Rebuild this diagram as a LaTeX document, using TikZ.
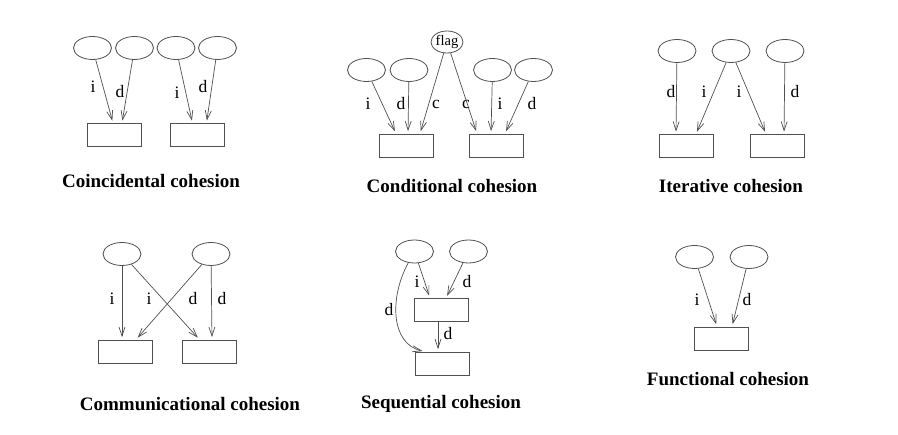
\documentclass[tikz,border=0pt]{standalone}
\usepackage{fontspec}
\setmainfont{Liberation Serif}
\usetikzlibrary{shapes.geometric,arrows.meta}
\definecolor{lc}{HTML}{505050}
\begin{document}
\begin{tikzpicture}[x=1pt,y=-1pt,
 ell/.style={ellipse,draw=lc,line width=0.8pt,minimum width=38pt,minimum height=23pt,inner sep=0pt},
 bx/.style={rectangle,draw=lc,line width=0.8pt,minimum width=54pt,minimum height=23pt,inner sep=0pt},
 arr/.style={draw=lc,line width=0.7pt,-{Straight Barb[length=9pt,width=6pt]},shorten >=2.5pt},
 lab/.style={font=\fontsize{17.5}{19}\selectfont,inner sep=0pt},
 ttl/.style={font=\fontsize{19}{22}\selectfont\bfseries,inner sep=0pt}]
\useasboundingbox (0,0) rectangle (898,435);

% Coincidental
\node[ell] (a1) at (92.5,48) {};
\node[ell] (a2) at (134.5,48) {};
\node[ell] (a3) at (176,48) {};
\node[ell] (a4) at (217.5,48) {};
\node[bx] (ab1) at (114,135) {};
\node[bx] (ab2) at (197.5,135) {};
\draw[arr] (a1) -- ([xshift=-1pt]ab1.north);
\draw[arr] (a2) -- ([xshift=8pt]ab1.north);
\draw[arr] (a3) -- ([xshift=-5pt]ab2.north);
\draw[arr] (a4) -- ([xshift=9pt]ab2.north);
\node[lab] (la1) at (93,87) {i};
\node[lab] (la2) at (120,92) {d};
\node[lab] (la3) at (177,93) {i};
\node[lab] (la4) at (203,87) {d};
\node[ttl] (ta) at (151,181) {Coincidental cohesion};

% Conditional
\node[ell,minimum width=32pt,minimum height=22pt,font=\fontsize{14.5}{16}\selectfont] (bf) at (447,42) {flag};
\node[ell] (b1) at (366.5,70) {};
\node[ell] (b2) at (409,70) {};
\node[ell] (b3) at (492.5,70) {};
\node[ell] (b4) at (533.5,70) {};
\node[bx] (bb1) at (406,145.5) {};
\node[bx] (bb2) at (496,145.5) {};
\draw[arr] (b1) -- ([xshift=-10pt]bb1.north);
\draw[arr] (b2) -- ([xshift=2pt]bb1.north);
\draw[arr] (bf) -- ([xshift=14pt]bb1.north);
\draw[arr] (bf) -- ([xshift=-19pt]bb2.north);
\draw[arr] (b3) -- ([xshift=-5pt]bb2.north);
\draw[arr] (b4) -- ([xshift=9pt]bb2.north);
\node[lab] (lb1) at (368,104) {i};
\node[lab] (lb2) at (401,104) {d};
\node[lab] (lb3) at (436,104) {c};
\node[lab] (lb4) at (466,104) {c};
\node[lab] (lb5) at (500,104) {i};
\node[lab] (lb6) at (532,104) {d};
\node[ttl] (tb) at (452,186) {Conditional cohesion};

% Iterative
\node[ell] (c1) at (677,51) {};
\node[ell] (c2) at (731,51) {};
\node[ell] (c3) at (785,51) {};
\node[bx] (cb1) at (686,146) {};
\node[bx] (cb2) at (777,146) {};
\draw[arr] (c1) -- ([xshift=-10pt]cb1.north);
\draw[arr] (c2) -- ([xshift=10pt]cb1.north);
\draw[arr] (c2) -- ([xshift=-11pt]cb2.north);
\draw[arr] (c3) -- ([xshift=7pt]cb2.north);
\node[lab] (lc1) at (671,92) {d};
\node[lab] (lc2) at (704,92) {i};
\node[lab] (lc3) at (739,92) {i};
\node[lab] (lc4) at (795,92) {d};
\node[ttl] (tc) at (731,186) {Iterative cohesion};

% Communicational
\node[ell] (d1) at (122,254) {};
\node[ell] (d2) at (211,254) {};
\node[bx] (db1) at (125,351.5) {};
\node[bx] (db2) at (209.5,351.5) {};
\draw[arr] (d1) -- ([xshift=-3pt]db1.north);
\draw[arr] (d1) -- ([xshift=-10pt]db2.north);
\draw[arr] (d2) -- ([xshift=11pt]db1.north);
\draw[arr] (d2) -- ([xshift=2.5pt]db2.north);
\node[lab] (ld1) at (112,299) {i};
\node[lab] (ld2) at (149,299) {i};
\node[lab] (ld3) at (193,299) {d};
\node[lab] (ld4) at (222,299) {d};
\node[ttl] (td) at (190,404) {Communicational cohesion};

% Sequential
\node[ell] (e1) at (414.5,251.5) {};
\node[ell] (e2) at (468.5,251.5) {};
\node[bx] (eb1) at (441,310) {};
\node[bx] (eb2) at (442,363.5) {};
\draw[arr] (e1) -- ([xshift=-11pt]eb1.north);
\draw[arr] (e2) -- ([xshift=5pt]eb1.north);
\draw[arr] ([xshift=-3pt]eb1.south) -- ([xshift=-4pt]eb2.north);
\draw[arr] (e1) .. controls (389,298) and (391,344) .. ([xshift=-17pt]eb2.north);
\node[lab] (le1) at (417,282) {i};
\node[lab] (le2) at (467,282) {d};
\node[lab] (le3) at (389,310) {d};
\node[lab] (le4) at (448,334) {d};
\node[ttl] (te) at (441,404) {Sequential cohesion};

% Functional
\node[ell] (f1) at (694.5,257) {};
\node[ell] (f2) at (749,257) {};
\node[bx] (fb) at (721.5,338.5) {};
\draw[arr] (f1) -- ([xshift=-4.5pt]fb.north);
\draw[arr] (f2) -- ([xshift=10.5pt]fb.north);
\node[lab] (lf1) at (697,300) {i};
\node[lab] (lf2) at (747,300) {d};
\node[ttl] (tf) at (728,379) {Functional cohesion};
\end{tikzpicture}
\end{document}
